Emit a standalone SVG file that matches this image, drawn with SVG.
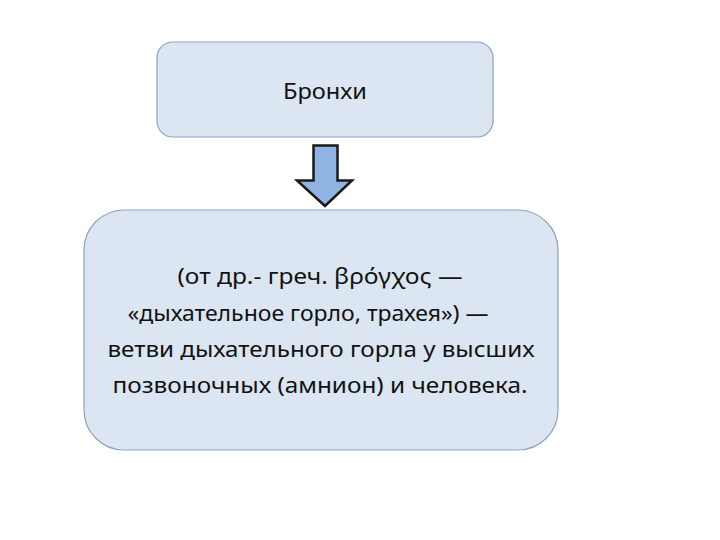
<svg xmlns="http://www.w3.org/2000/svg" width="720" height="540" viewBox="0 0 720 540">
<style>
.box{fill:#dce6f2;stroke:#8ea2bd;stroke-width:1.2}
.t{font-family:"Noto Sans","Open Sans","DejaVu Sans",sans-serif;font-size:22.5px;fill:#111;text-anchor:middle}
</style>
<rect width="720" height="540" fill="#fff"/>
<g id="node-top">
<rect class="box" x="157" y="42" width="336" height="95" rx="16"/>
<text class="t" x="325" y="99" textLength="84" lengthAdjust="spacingAndGlyphs">Бронхи</text>
</g>
<g id="connectors">
<path d="M313.5,145.5 H337.5 V180.5 H352 L325,206 L297,180.5 H313.5 Z" fill="#8eb4e3" stroke="#1a1a1a" stroke-width="2.5" stroke-linejoin="miter"/>
</g>
<g id="node-bottom">
<rect class="box" x="84" y="210" width="474" height="240" rx="40"/>
<text class="t" x="320" y="284" textLength="285" lengthAdjust="spacingAndGlyphs">(от др.- греч. βρόγχος —</text>
<text class="t" x="308" y="321" textLength="361" lengthAdjust="spacingAndGlyphs">«дыхательное горло, трахея») —</text>
<text class="t" x="321" y="357" textLength="427" lengthAdjust="spacingAndGlyphs">ветви дыхательного горла у высших</text>
<text class="t" x="320" y="393" textLength="415" lengthAdjust="spacingAndGlyphs">позвоночных (амнион) и человека.</text>
</g>
</svg>
